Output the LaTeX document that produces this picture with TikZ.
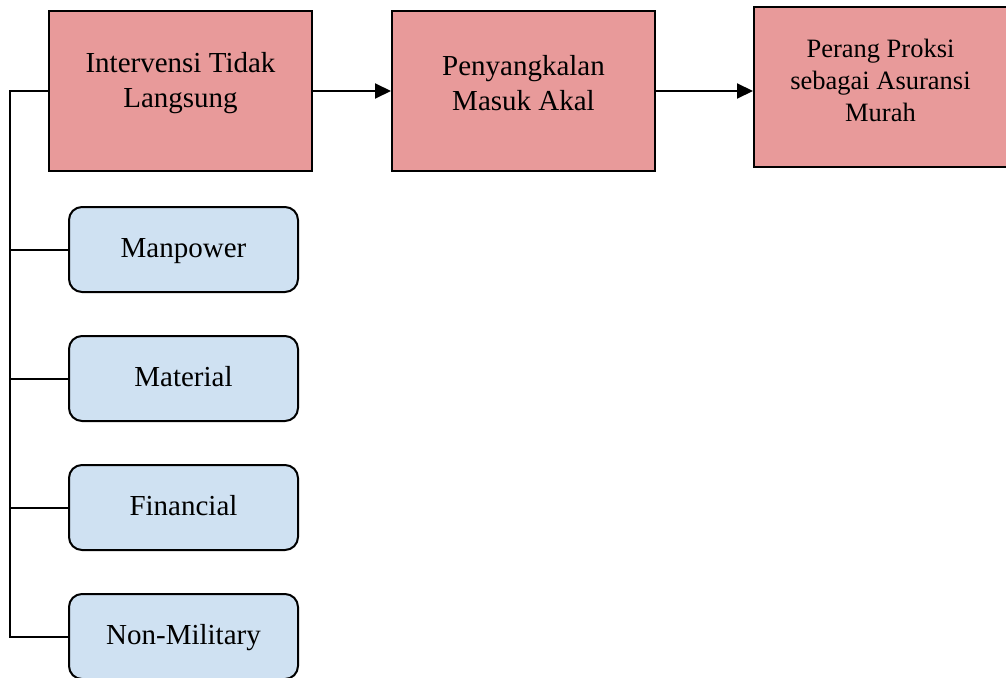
\documentclass[tikz,border=0pt]{standalone}
\usepackage{fontspec}
\setmainfont{Liberation Serif}
\usetikzlibrary{arrows.meta}
\definecolor{pinkfill}{HTML}{E89A9A}
\definecolor{bluefill}{HTML}{CFE1F2}
\tikzset{
  pinkbox/.style={draw=black, line width=2pt, fill=pinkfill, rectangle, inner sep=0pt, minimum width=263pt, minimum height=160pt},
  bluebox/.style={draw=black, line width=2pt, fill=bluefill, rectangle, rounded corners=13pt, inner sep=0pt, minimum width=229pt, minimum height=85pt, text height=21pt, text depth=5pt, font=\fontsize{29}{35}\selectfont},
  bigtxt/.style={align=center, inner sep=0pt, font=\fontsize{29}{35}\selectfont},
  smalltxt/.style={align=center, inner sep=0pt, font=\fontsize{26.5}{32}\selectfont},
  conn/.style={line width=2pt},
  arr/.style={line width=2pt, -{Triangle[length=16pt,width=15pt]}}
}
\begin{document}
\begin{tikzpicture}[x=1pt,y=-1pt]
\useasboundingbox (0,0) rectangle (1006,677);
\node[pinkbox] (b1) at (180.5,91) {};
\node[bigtxt] (t1) at (180.5,83) {Intervensi Tidak\\Langsung};
\node[pinkbox] (b2) at (523.5,91) {};
\node[bigtxt] (t2) at (523.5,83) {Penyangkalan\\Masuk Akal};
\node[pinkbox, minimum width=253pt] (b3) at (880.5,87) {};
\node[smalltxt] (t3) at (880.5,80) {Perang Proksi\\sebagai Asuransi\\Murah};
\node[bluebox] (m1) at (183.5,249.5) {Manpower};
\node[bluebox] (m2) at (183.5,378.5) {Material};
\node[bluebox] (m3) at (183.5,507.5) {Financial};
\node[bluebox] (m4) at (183.5,636.5) {Non-Military};
\coordinate (top) at (10,91);
\draw[arr] (b1.east) -- (b2.west);
\draw[arr] (b2.east) -- (b2.east -| b3.west);
\draw[conn] (b1.west) -- (top) -- (top |- m4.west) -- (m4.west);
\draw[conn] (top |- m1.west) -- (m1.west);
\draw[conn] (top |- m2.west) -- (m2.west);
\draw[conn] (top |- m3.west) -- (m3.west);
\end{tikzpicture}
\end{document}
